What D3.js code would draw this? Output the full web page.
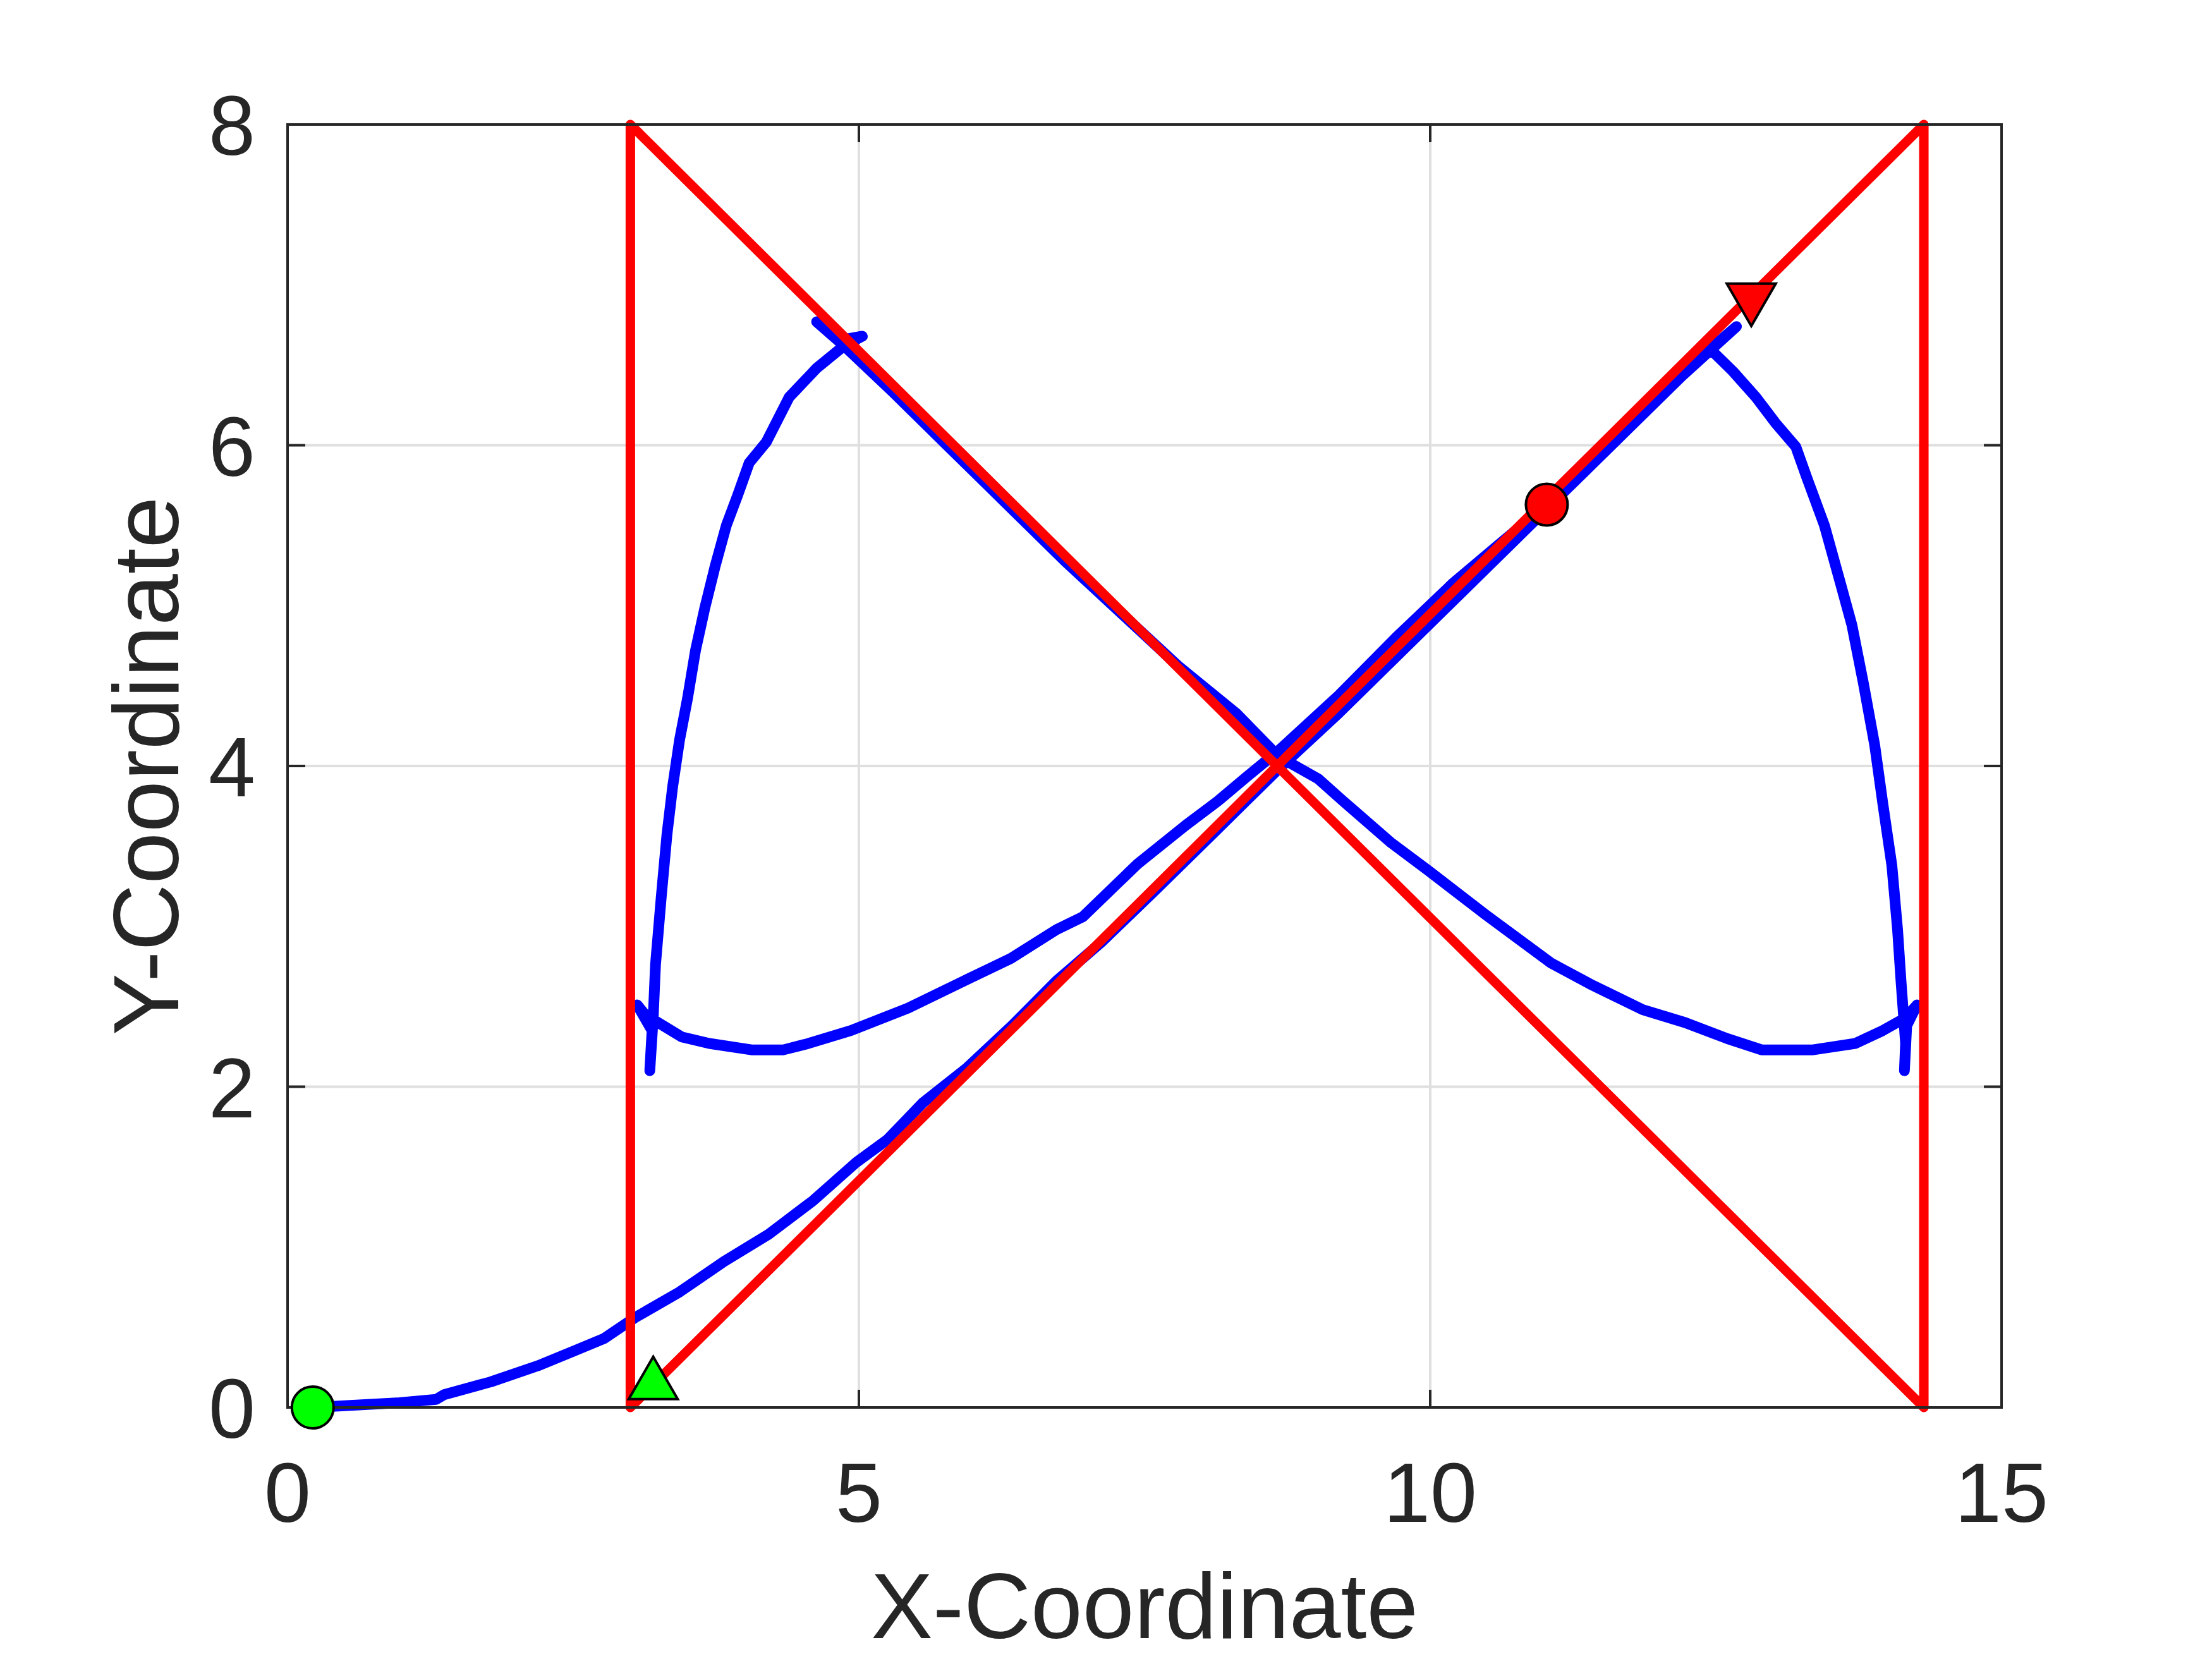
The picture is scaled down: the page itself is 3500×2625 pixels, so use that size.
<!DOCTYPE html>
<html lang="en">
<head>
<meta charset="UTF-8">
<title>Trajectory</title>
<script src="https://d3js.org/d3.v7.min.js"></script>
<style>
  html, body { margin: 0; padding: 0; background: #fff; }
  svg text { font-family: "Liberation Sans", Arial, Helvetica, sans-serif; fill: #262626; }
</style>
</head>
<body>
<div id="chart"></div>
<script>
// reference path (red)
var refX = [3.0, 14.32, 14.32, 3.0, 3.0];
var refY = [0.0, 8.0, 0.0, 8.0, 0.0];

// actual trajectory (blue)
var actX = [0.22, 0.6, 0.98, 1.3, 1.37, 1.78, 2.19, 2.5, 2.77, 3.04, 3.43, 3.82, 4.21, 4.60, 4.98, 5.25, 5.56, 5.95, 6.34, 6.73, 7.12, 7.6, 8.1, 8.67,
  9.2, 9.7, 10.2, 10.7, 11.2, 11.7, 12.2, 12.68, 12.45,
  12.65, 12.85, 13.02, 13.20, 13.30, 13.45, 13.59, 13.69, 13.79, 13.89, 13.96, 14.04, 14.09, 14.12, 14.16, 14.15, 14.17, 14.26, 14.16,
  13.96, 13.72, 13.35, 12.90, 12.60, 12.23, 11.86, 11.40, 11.06, 10.49, 9.98, 9.66, 9.24, 9.02, 8.67,
  8.3, 7.8, 7.3, 6.8, 6.3, 5.8, 5.3, 4.87, 4.63, 4.87, 5.03, 4.87,
  4.63, 4.39, 4.19, 4.04, 3.94, 3.84, 3.74, 3.65, 3.57, 3.50, 3.43, 3.37, 3.32, 3.27, 3.22, 3.20, 3.17, 3.19, 3.06, 3.14, 3.22,
  3.45, 3.69, 4.06, 4.34, 4.56, 4.93, 5.43, 5.92, 6.33, 6.73, 6.96, 7.44, 7.86, 8.14, 8.39, 8.68,
  9.2, 9.7, 10.2, 10.6, 11.02];
var actY = [0.0, 0.015, 0.03, 0.05, 0.08, 0.16, 0.26, 0.35, 0.43, 0.56, 0.72, 0.91, 1.08, 1.29, 1.53, 1.67, 1.90, 2.12, 2.38, 2.66, 2.90, 3.23, 3.58, 3.98,
  4.33, 4.68, 5.03, 5.38, 5.73, 6.08, 6.43, 6.74, 6.60,
  6.46, 6.30, 6.14, 5.99, 5.79, 5.50, 5.14, 4.88, 4.52, 4.13, 3.77, 3.38, 2.98, 2.66, 2.27, 2.10, 2.38, 2.51, 2.43,
  2.35, 2.27, 2.23, 2.23, 2.30, 2.40, 2.48, 2.64, 2.77, 3.07, 3.35, 3.52, 3.78, 3.92, 4.06,
  4.33, 4.62, 4.95, 5.28, 5.63, 5.98, 6.33, 6.62, 6.77, 6.66, 6.68, 6.62,
  6.48, 6.30, 6.02, 5.89, 5.69, 5.50, 5.24, 4.98, 4.72, 4.42, 4.16, 3.87, 3.57, 3.18, 2.76, 2.43, 2.10, 2.35, 2.51, 2.44, 2.41,
  2.31, 2.27, 2.23, 2.23, 2.27, 2.35, 2.49, 2.66, 2.80, 2.98, 3.06, 3.39, 3.63, 3.78, 3.93, 4.10,
  4.44, 4.80, 5.14, 5.38, 5.63];

// start / end markers
var refStart = [3.2, 0.14];
var refEnd = [12.81, 6.92];
var actStart = [0.22, 0.0];
var actEnd = [11.02, 5.63];

var xTicks = [0, 5, 10, 15];
var yTicks = [0, 2, 4, 6, 8];

var W = 3500, H = 2625;
var mLeft = 455, mRight = 3167, mTop = 197, mBottom = 2227;

var svg = d3.select("#chart").append("svg")
    .attr("width", W)
    .attr("height", H);

var x = d3.scaleLinear().domain([0, 15]).range([mLeft, mRight]);
var y = d3.scaleLinear().domain([0, 8]).range([mBottom, mTop]);

// grid
svg.append("g").selectAll("line")
    .data(xTicks.slice(1, -1))
    .enter().append("line")
    .attr("x1", function(d) { return x(d); })
    .attr("x2", function(d) { return x(d); })
    .attr("y1", mTop).attr("y2", mBottom)
    .attr("stroke", "#dfdfdf").attr("stroke-width", 4);

svg.append("g").selectAll("line")
    .data(yTicks.slice(1, -1))
    .enter().append("line")
    .attr("y1", function(d) { return y(d); })
    .attr("y2", function(d) { return y(d); })
    .attr("x1", mLeft).attr("x2", mRight)
    .attr("stroke", "#dfdfdf").attr("stroke-width", 4);

var line = d3.line()
    .x(function(d) { return x(d[0]); })
    .y(function(d) { return y(d[1]); });

var actPts = actX.map(function(v, i) { return [v, actY[i]]; });
var refPts = refX.map(function(v, i) { return [v, refY[i]]; });

svg.append("path")
    .attr("d", line(actPts))
    .attr("fill", "none")
    .attr("stroke", "#0000ff")
    .attr("stroke-width", 17)
    .attr("stroke-linejoin", "round")
    .attr("stroke-linecap", "round");

svg.append("path")
    .attr("d", line(refPts))
    .attr("fill", "none")
    .attr("stroke", "#ff0000")
    .attr("stroke-width", 15)
    .attr("stroke-linejoin", "round")
    .attr("stroke-linecap", "round");

// axes box and ticks
var tickLen = 28;
var axisG = svg.append("g").attr("stroke", "#262626").attr("stroke-width", 4);

axisG.append("rect")
    .attr("x", mLeft).attr("y", mTop)
    .attr("width", mRight - mLeft).attr("height", mBottom - mTop)
    .attr("fill", "none");

xTicks.forEach(function(t) {
    axisG.append("line").attr("x1", x(t)).attr("x2", x(t)).attr("y1", mBottom).attr("y2", mBottom - tickLen);
    axisG.append("line").attr("x1", x(t)).attr("x2", x(t)).attr("y1", mTop).attr("y2", mTop + tickLen);
});
yTicks.forEach(function(t) {
    axisG.append("line").attr("y1", y(t)).attr("y2", y(t)).attr("x1", mLeft).attr("x2", mLeft + tickLen);
    axisG.append("line").attr("y1", y(t)).attr("y2", y(t)).attr("x1", mRight).attr("x2", mRight - tickLen);
});

// tick labels
svg.append("g").selectAll("text")
    .data(xTicks)
    .enter().append("text")
    .attr("x", function(d) { return x(d); })
    .attr("y", 2408)
    .attr("text-anchor", "middle")
    .attr("font-size", 133)
    .text(function(d) { return d; });

svg.append("g").selectAll("text")
    .data(yTicks)
    .enter().append("text")
    .attr("x", 404)
    .attr("y", function(d) { return y(d) + 48; })
    .attr("text-anchor", "end")
    .attr("font-size", 133)
    .text(function(d) { return d; });

// axis labels
svg.append("text")
    .attr("x", (mLeft + mRight) / 2)
    .attr("y", 2592)
    .attr("text-anchor", "middle")
    .attr("font-size", 147)
    .text("X-Coordinate");

svg.append("text")
    .attr("transform", "translate(282," + ((mTop + mBottom) / 2) + ") rotate(-90)")
    .attr("text-anchor", "middle")
    .attr("font-size", 147)
    .text("Y-Coordinate");

// markers
var tri = d3.symbol().type(d3.symbolTriangle).size(2600);

svg.append("path")
    .attr("d", tri())
    .attr("transform", "translate(" + x(refStart[0]) + "," + y(refStart[1]) + ")")
    .attr("fill", "#00ff00").attr("stroke", "#000").attr("stroke-width", 4);

svg.append("path")
    .attr("d", tri())
    .attr("transform", "translate(" + x(refEnd[0]) + "," + y(refEnd[1]) + ") rotate(180)")
    .attr("fill", "#ff0000").attr("stroke", "#000").attr("stroke-width", 4);

svg.append("circle")
    .attr("cx", x(actStart[0])).attr("cy", y(actStart[1])).attr("r", 33)
    .attr("fill", "#00ff00").attr("stroke", "#000").attr("stroke-width", 4);

svg.append("circle")
    .attr("cx", x(actEnd[0])).attr("cy", y(actEnd[1])).attr("r", 33)
    .attr("fill", "#ff0000").attr("stroke", "#000").attr("stroke-width", 4);
</script>
</body>
</html>
